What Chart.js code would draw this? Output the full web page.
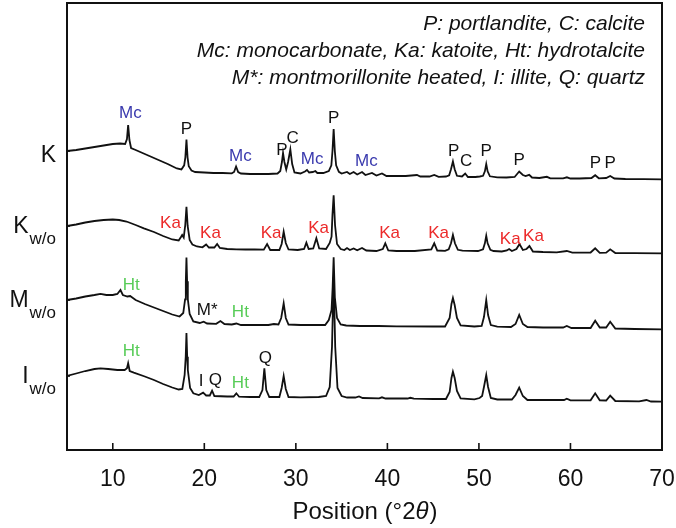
<!DOCTYPE html>
<html>
<head>
<meta charset="utf-8">
<script src="https://cdn.jsdelivr.net/npm/chart.js@4.4.0/dist/chart.umd.min.js"></script>
<style>
  html, body { margin: 0; padding: 0; background: #fff; }
  #wrap { width: 676px; height: 528px; }
</style>
</head>
<body>
<div id="wrap"><canvas id="xrd" width="676" height="528"></canvas></div>
<script>
// XRD scans: [2theta, intensity above the trace's own tail (a.u.)]
var scanK = [[5,28.3],[6,29.3],[7,30.8],[8,32.3],[9,33.8],[10,35.3],[10.8,35.8],[11.35,35.3],[11.55,40.3],[11.68,54.3],[11.82,39.3],[12,31.3],[12.5,29.3],[13,27.3],[14,23.3],[15,19.3],[16,15.3],[17,10.8],[17.5,9.8],[17.8,14],[17.93,22],[18.05,39.8],[18.17,22],[18.3,13],[18.6,8.8],[19,7.3],[20,6.8],[21,6.3],[22,6.3],[23,6.0],[23.25,7.3],[23.47,12.8],[23.7,7.3],[24,5.8],[25,5.3],[26,5.3],[27,5.3],[28,5.8],[28.3,8.3],[28.48,17.3],[28.6,26.3],[28.75,17.3],[28.95,9.8],[29.15,17.3],[29.4,29.8],[29.6,15.3],[29.85,6.8],[30.5,5.8],[31,7.8],[31.22,9.3],[31.45,6.8],[31.85,7.3],[32.13,8.3],[32.35,6.3],[33,6.3],[33.6,8.3],[33.88,14],[34,28],[34.13,50.3],[34.26,28],[34.4,14],[34.7,7.5],[35,5.8],[35.59,7.3],[35.9,5.3],[36.31,7.3],[36.7,4.8],[37.23,7.3],[37.6,4.3],[38.32,6.3],[38.8,3.8],[39.41,5.8],[39.9,3.3],[41,3.3],[42,3.3],[43.23,4.3],[43.6,2.8],[44.6,2.8],[45.12,4.3],[45.6,2.5],[46.4,2.8],[46.75,4],[46.95,10],[47.16,17.8],[47.35,10],[47.6,3.5],[48.15,2.8],[48.5,5.8],[48.8,2.3],[49.6,2.3],[50.1,2.8],[50.45,3.5],[50.65,8],[50.8,15.3],[50.95,8],[51.2,3],[52,2.0],[53,1.8],[53.9,2.3],[54.4,7.8],[54.8,4.3],[55.1,3.3],[55.49,4.5],[55.8,1.8],[56.6,1.3],[57.42,2.5],[57.8,1.0],[59.2,1.0],[59.61,2.0],[60,0.8],[61,0.8],[62.3,1.3],[62.7,4.1],[63.1,1.0],[63.9,1.3],[64.34,3.3],[64.8,0.8],[66,0.3],[68,0.1],[70,0]];

var scanKwo = [[5,27.3],[6,28.8],[7,30.8],[8,32.3],[9,33.3],[10,33.8],[10.7,33.3],[11.5,31.8],[12.5,28.3],[13.4,25],[14.5,21.3],[15.5,17.3],[16.5,13.8],[17.2,12.8],[17.45,16.3],[17.58,18.3],[17.75,15.8],[17.92,28.3],[18.05,46.6],[18.18,27.3],[18.4,13.3],[18.7,8.8],[19.2,6.8],[19.8,6],[20.2,8.8],[20.5,5.8],[21.1,5.8],[21.4,9.3],[21.7,5.3],[22.5,4.3],[23.5,4],[24.5,3.8],[25.5,3.8],[26.5,3.6],[26.86,9.3],[27.2,3.3],[28.2,3.3],[28.45,9.3],[28.67,21.6],[28.9,10.3],[29.2,3.8],[30.2,3.3],[30.9,4.3],[31.15,10.6],[31.4,4.3],[31.9,4.8],[32.24,15],[32.55,4.8],[33.3,4.3],[33.7,10.3],[33.9,16.6],[34,38.3],[34.13,58],[34.28,28.3],[34.5,9.3],[34.9,4.3],[35.3,3.3],[35.59,5.3],[35.9,3.3],[36.31,4.8],[36.7,3],[37.23,5.3],[37.7,2.8],[38.8,2.3],[39.5,4.3],[39.77,10],[40.1,2.8],[41,2.3],[43,2.3],[44.8,3.8],[45.12,10],[45.45,2.8],[46.3,2.5],[46.7,4],[46.95,10],[47.16,18.3],[47.38,10],[47.7,3.5],[48.2,2.6],[49.9,2.3],[50.45,4],[50.65,10],[50.8,17.6],[50.95,10],[51.25,3.5],[51.6,2.3],[52.5,1.8],[53.05,2.8],[53.3,4.3],[53.6,2.3],[54.1,4.3],[54.43,9.3],[54.8,3.3],[55.2,4.3],[55.52,7.3],[55.9,1.8],[57,1.3],[58.5,1],[59.6,2.3],[60.2,0.7],[62.2,0.8],[62.7,5],[63.2,0.5],[63.9,0.7],[64.34,4],[64.9,0.3],[67,0.1],[70,0]];

var scanMwo = [[5,29.3],[6,30.8],[7,32.8],[8,34.3],[8.66,35.5],[9.3,34.3],[10,34.3],[10.5,35.3],[10.84,39.3],[11.1,34.3],[11.6,32.8],[11.9,33.3],[12.5,29.3],[13.5,25.3],[14.5,21.8],[15.5,18.3],[16.5,14.8],[17.3,12.8],[17.7,16.3],[17.9,30],[17.98,48],[18.05,71.8],[18.12,48],[18.2,30],[18.4,15.3],[18.8,7.8],[19.5,6.3],[19.93,7.6],[20.3,5.8],[21.3,5.5],[21.76,8.3],[22.2,5.3],[23,4.8],[23.5,5.8],[24,4.3],[25.5,4.3],[27,4.3],[27.6,5.3],[28.1,4.8],[28.4,11.3],[28.67,26],[28.9,11.3],[29.2,4.8],[30.5,4.3],[33.2,4.3],[33.6,9.3],[33.9,19.3],[34.02,42],[34.13,72],[34.26,32],[34.5,11.3],[34.9,4.8],[35.5,3.8],[37,3.3],[39,3.3],[41,3],[45,2.8],[46.3,2.8],[46.8,11.3],[47,25.3],[47.16,31.3],[47.35,24.3],[47.6,11.3],[48,3.8],[49.5,2.8],[50.3,3.3],[50.55,12.3],[50.8,29.3],[51,14.3],[51.3,4.3],[52,2.6],[53.5,2.3],[54,5.3],[54.4,14.3],[54.8,5.3],[55.3,2.3],[57,1.8],[59.2,1.8],[59.6,3.3],[60.1,1.3],[62.2,1.3],[62.7,8.6],[63.2,1.8],[63.9,1.8],[64.34,7.6],[64.9,0.8],[67,0.3],[70,0]];

var scanIwo = [[5,25.7],[6,28.2],[7,30.7],[8,32.7],[8.66,33.4],[9.5,32.7],[10.5,31.7],[11.3,31.7],[11.55,33.4],[11.68,38.4],[11.85,30.7],[12.3,29],[13.5,25.2],[14.5,21.7],[15.5,17.7],[16.5,14.2],[17.2,12.2],[17.6,12.7],[17.85,26.7],[17.97,45],[18.05,68.7],[18.13,45],[18.2,31.7],[18.45,13.7],[18.8,8.4],[19.4,6.7],[19.87,9],[20.2,6.2],[20.6,6.2],[20.85,11],[21.1,5.7],[22.5,5.2],[23.2,5.2],[23.5,8.4],[23.8,5],[25,4.7],[26,4.7],[26.35,11.7],[26.56,33.4],[26.77,11.7],[27.1,4.7],[28.2,4.7],[28.45,13.7],[28.67,25.7],[28.9,12.7],[29.2,4.7],[30.5,4.4],[32.5,4.7],[33.3,5.7],[33.7,14.7],[33.95,55],[34.13,125],[34.3,55],[34.55,13.7],[35,5.7],[35.6,4.2],[36.5,4.2],[36.9,5.2],[37.3,3.7],[39.1,3.4],[39.41,4.4],[39.8,3.2],[42.2,3.2],[42.5,3.9],[42.9,3],[45,2.7],[46.4,2.7],[46.8,9.7],[47,23.7],[47.16,30],[47.35,23.7],[47.6,10.7],[48,3.2],[49.5,2.4],[50.07,3.7],[50.35,5.7],[50.55,14.7],[50.8,26.7],[51,14.7],[51.3,3.7],[52,2.2],[53.6,2.2],[54,6.7],[54.4,14],[54.8,5.7],[55.3,1.7],[57,1.7],[59.3,1.7],[59.6,3],[60,1.4],[62.2,1.4],[62.7,8.4],[63.2,1.4],[63.9,1.2],[64.34,6],[64.9,0.7],[67.5,0.4],[68.3,1.7],[68.8,0.2],[70,0]];

// vertical stacking offset of each scan (a.u.)
var sampleNames = ['K', 'K', 'M', 'I'];
var sampleSubs = ['', 'w/o', 'w/o', 'w/o'];
var sampleOffsets = [265.7, 191.7, 115.7, 43.3];
var sampleScans = [scanK, scanKwo, scanMwo, scanIwo];

var xTicks = [10, 20, 30, 40, 50, 60, 70];

var legendLines = [
  'P: portlandite, C: calcite',
  'Mc: monocarbonate, Ka: katoite, Ht: hydrotalcite',
  'M*: montmorillonite heated, I: illite, Q: quartz'
];

// phase labels: [text, 2theta, height above scan tail, phase]
var phaseLabels = [
  [['Mc', 11.93, 66.3, 'mc'], ['P', 18.05, 50.3, 'p'], ['Mc', 23.94, 22.6, 'mc'], ['P', 28.49, 29.3, 'p'],
   ['C', 29.65, 41, 'p'], ['Mc', 31.77, 20, 'mc'], ['P', 34.13, 61, 'p'], ['Mc', 37.7, 18.3, 'mc'],
   ['P', 47.23, 28.3, 'p'], ['C', 48.61, 17.6, 'p'], ['P', 50.8, 27.6, 'p'], ['P', 54.4, 19.3, 'p'],
   ['P', 62.73, 16, 'p'], ['P', 64.34, 16, 'p']],
  [['Ka', 16.3, 30, 'ka'], ['Ka', 20.67, 20, 'ka'], ['Ka', 27.29, 20, 'ka'], ['Ka', 32.49, 25, 'ka'],
   ['Ka', 40.24, 20, 'ka'], ['Ka', 45.59, 20, 'ka'], ['Ka', 53.42, 14, 'ka'], ['Ka', 55.96, 17.3, 'ka']],
  [['Ht', 12.01, 44.3, 'ht'], ['M*', 20.31, 19.3, 'p'], ['Ht', 23.94, 16.6, 'ht']],
  [['Ht', 12.01, 50, 'ht'], ['I', 19.65, 20, 'p'], ['Q', 21.21, 21.7, 'p'], ['Ht', 23.94, 18.4, 'ht'],
   ['Q', 26.67, 43.4, 'p']]
];
var phaseColors = { p: '#111111', mc: '#3a3aae', ka: '#ec2a2a', ht: '#58cc58' };

var FONT = '"Liberation Sans", Arial, sans-serif';

var datasets = sampleScans.map(function(scan, i) {
  return {
    label: sampleNames[i] + sampleSubs[i],
    data: scan.map(function(p) { return { x: p[0], y: p[1] + sampleOffsets[i] }; }),
    borderColor: '#111',
    borderWidth: 1.8,
    pointRadius: 0,
    tension: 0,
    fill: false
  };
});

var decor = {
  id: 'decor',
  afterDraw: function(chart) {
    var ctx = chart.ctx, a = chart.chartArea;
    var x = chart.scales.x, y = chart.scales.y;
    ctx.save();

    // frame
    ctx.strokeStyle = '#111';
    ctx.lineWidth = 2;
    ctx.strokeRect(a.left, a.top, a.right - a.left, a.bottom - a.top);

    // inward ticks on bottom axis
    ctx.lineWidth = 1.6;
    xTicks.forEach(function(t) {
      var px = x.getPixelForValue(t);
      ctx.beginPath();
      ctx.moveTo(px, a.bottom);
      ctx.lineTo(px, a.bottom - 7);
      ctx.stroke();
    });
    // short ticks on the left axis at each scan start
    sampleScans.forEach(function(scan, i) {
      var py = y.getPixelForValue(scan[0][1] + sampleOffsets[i]);
      ctx.beginPath();
      ctx.moveTo(a.left, py);
      ctx.lineTo(a.left + 3, py);
      ctx.stroke();
    });

    // tick labels
    ctx.fillStyle = '#111';
    ctx.font = '23px ' + FONT;
    ctx.textAlign = 'center';
    ctx.textBaseline = 'alphabetic';
    xTicks.forEach(function(t) {
      ctx.fillText(String(t), x.getPixelForValue(t), a.bottom + 36);
    });

    // axis title: Position (°2θ)
    var tf = '24px ' + FONT, tfi = 'italic 24px ' + FONT;
    ctx.font = tf;
    var t1 = 'Position (\u00b02', t3 = ')';
    var w1 = ctx.measureText(t1).width, w3 = ctx.measureText(t3).width;
    ctx.font = tfi;
    var w2 = ctx.measureText('\u03b8').width;
    var cx = (a.left + a.right) / 2, sx = cx - (w1 + w2 + w3) / 2, by = a.bottom + 69;
    ctx.textAlign = 'left';
    ctx.font = tf;
    ctx.fillText(t1, sx, by);
    ctx.font = tfi;
    ctx.fillText('\u03b8', sx + w1, by);
    ctx.font = tf;
    ctx.fillText(t3, sx + w1 + w2 + 1, by);

    // phase legend
    ctx.font = 'italic 21px ' + FONT;
    ctx.textAlign = 'right';
    legendLines.forEach(function(line, i) {
      ctx.fillText(line, a.right - 17, a.top + 27 + i * 27);
    });

    // sample names on the left
    sampleNames.forEach(function(name, i) {
      var base = y.getPixelForValue(sampleScans[i][0][1] + sampleOffsets[i]);
      var right = a.left - 11;
      ctx.textAlign = 'right';
      if (sampleSubs[i]) {
        ctx.font = '17px ' + FONT;
        var sw = ctx.measureText(sampleSubs[i]).width;
        ctx.fillText(sampleSubs[i], right, base + 18);
        ctx.font = '23px ' + FONT;
        ctx.fillText(name, right - sw - 1, base + 7);
      } else {
        ctx.font = '23px ' + FONT;
        ctx.fillText(name, right, base + 11);
      }
    });

    // phase labels above peaks
    ctx.font = '17px ' + FONT;
    ctx.textAlign = 'center';
    ctx.textBaseline = 'middle';
    phaseLabels.forEach(function(row, i) {
      row.forEach(function(l) {
        ctx.fillStyle = phaseColors[l[3]];
        ctx.fillText(l[0], x.getPixelForValue(l[1]), y.getPixelForValue(l[2] + sampleOffsets[i]));
      });
    });
    ctx.restore();
  }
};

new Chart(document.getElementById('xrd').getContext('2d'), {
  type: 'line',
  data: { datasets: datasets },
  options: {
    responsive: false,
    animation: false,
    devicePixelRatio: 1,
    layout: { padding: { left: 67, right: 14, top: 3, bottom: 78 } },
    scales: {
      x: { type: 'linear', min: 5, max: 70, display: false },
      y: { type: 'linear', min: -5, max: 442, display: false }
    },
    plugins: { legend: { display: false }, tooltip: { enabled: false } }
  },
  plugins: [decor]
});
</script>
</body>
</html>
